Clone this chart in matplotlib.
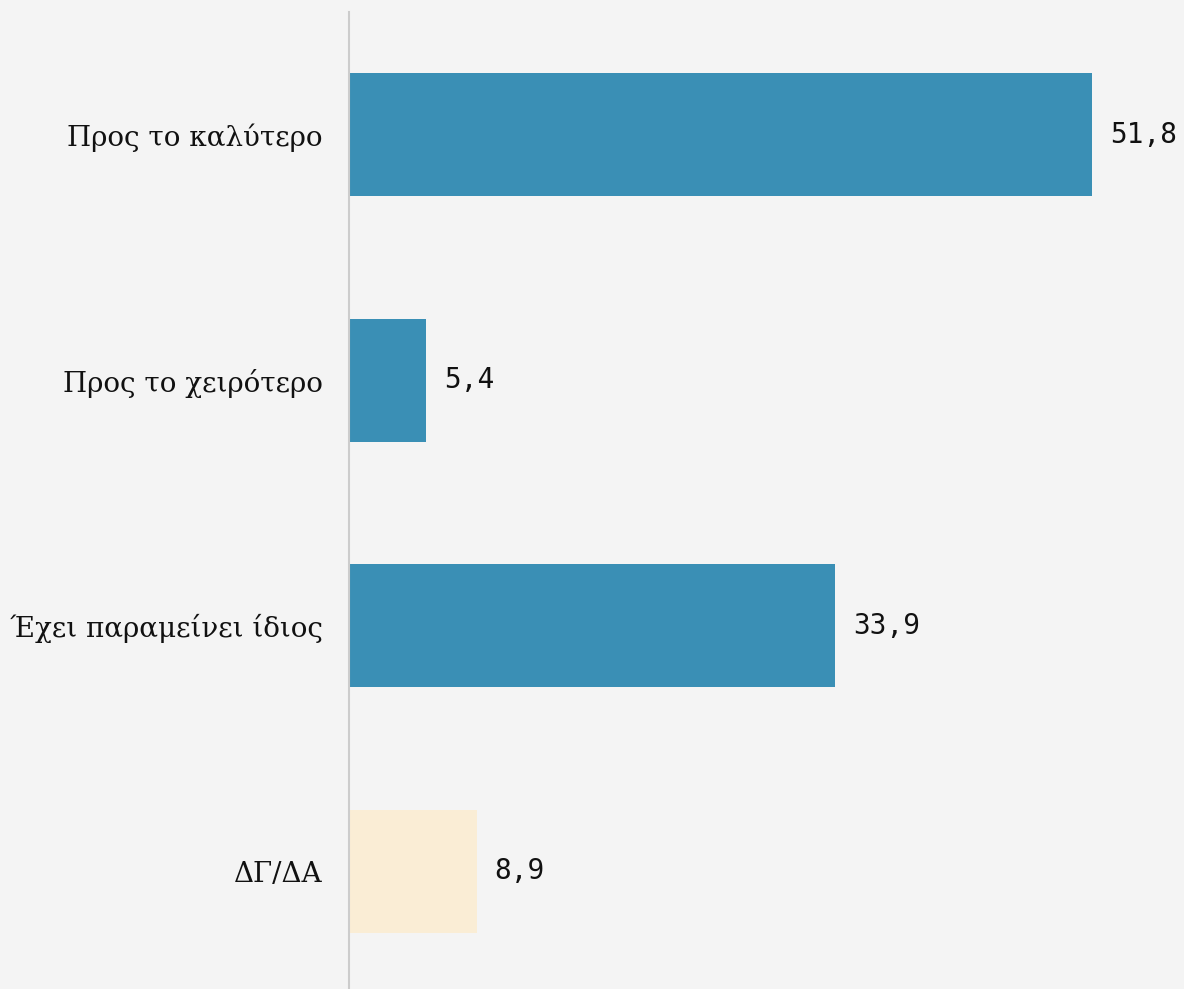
import matplotlib.pyplot as plt

categories = ['Προς το καλύτερο', 'Προς το χειρότερο', 'Έχει παραμείνει ίδιος', 'ΔΓ/ΔΑ']
values = [51.8, 5.4, 33.9, 8.9]
value_labels = ['51,8', '5,4', '33,9', '8,9']
colors = ['#3a8fb5', '#3a8fb5', '#3a8fb5', '#faedd5']

fig = plt.figure(figsize=(11.84, 9.89), dpi=100)
fig.patch.set_facecolor('#f4f4f4')
ax = fig.add_axes([349 / 1184, 0, 1 - 349 / 1184, 977 / 989])
ax.set_facecolor('#f4f4f4')

pos = list(range(len(categories)))
ax.barh(pos, values, height=0.5, color=colors)

# ετικέτες τιμών δεξιά από κάθε μπάρα
for p, v, lab in zip(pos, values, value_labels):
    ax.annotate(lab, (v, p), xytext=(13, 0), textcoords='offset points',
                va='center', ha='left', fontsize=20, family='DejaVu Sans Mono',
                color='#111111')

ax.set_xlim(0, 58.2)
ax.set_ylim(3.48, -0.5)
ax.set_yticks(pos)
ax.set_yticklabels(categories, family='DejaVu Serif', fontsize=20, color='#111111')
ax.tick_params(axis='y', length=0, pad=19)
ax.set_xticks([])

for s in ['top', 'right', 'bottom']:
    ax.spines[s].set_visible(False)
ax.spines['left'].set_color('#cccccc')
ax.spines['left'].set_linewidth(1.5)

fig.savefig('out.png', dpi=100, facecolor=fig.get_facecolor())
